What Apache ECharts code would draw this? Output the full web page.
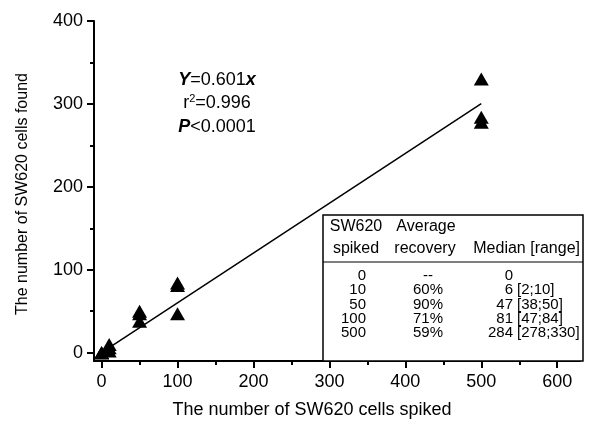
<!DOCTYPE html>
<html>
<head>
<meta charset="utf-8">
<script src="https://cdn.jsdelivr.net/npm/echarts@6/dist/echarts.min.js"></script>
<style>html,body{margin:0;padding:0;background:#fff}#c{width:600px;height:433px}</style>
</head>
<body>
<div id="c"></div>
<script>
// ---- data ----
const spikedX = [0, 0, 0, 10, 10, 10, 50, 50, 50, 100, 100, 100, 500, 500, 500];
const foundY = [0, 0, 0, 2, 6, 10, 38, 47, 50, 47, 81, 84, 278, 284, 330];
const fitX = [0, 500];
const fitY = [0, 300.5];
const xTickValues = [0, 100, 200, 300, 400, 500, 600];
const xMinorValues = [50, 150, 250, 350, 450, 550];
const yTickValues = [0, 100, 200, 300, 400];
const yMinorValues = [50, 150, 250, 350];
const xName = 'The number of SW620 cells spiked';
const yName = 'The number of SW620 cells found';
const statLines = ['{bi|Y}=0.601{bi|x}', 'r{sup|2}=0.996', '{bi|P}<0.0001'];
const tableHeader1 = ['SW620', 'Average', ''];
const tableHeader2 = ['spiked', 'recovery', 'Median [range]'];
const tableSpiked = ['0', '10', '50', '100', '500'];
const tableRecovery = ['--', '60%', '90%', '71%', '59%'];
const tableMedian = ['0', '6', '47', '81', '284'];
const tableRange = ['', '[2;10]', '[38;50]', '[47;84]', '[278;330]'];

const FONT = '"Liberation Sans", Arial, sans-serif';
const chart = echarts.init(document.getElementById('c'));

const pts = spikedX.map((x, i) => [x, foundY[i]]);
const fit = fitX.map((x, i) => [x, fitY[i]]);

const graphics = [];
// stats annotation
statLines.forEach((t, i) => {
  graphics.push({
    type: 'text', x: 217, y: 80 + i * 23.5,
    style: {
      text: t, fill: '#000', font: '18px ' + FONT, align: 'center', verticalAlign: 'middle',
      rich: {
        bi: { fontStyle: 'italic', fontWeight: 'bold', fontSize: 18, fontFamily: FONT, fill: '#000' },
        sup: { fontSize: 11, fontFamily: FONT, fill: '#000', padding: [0, 0, 9, 0] }
      }
    }
  });
});
// axis names
graphics.push({ type: 'text', x: 312, y: 410, style: { text: xName, fill: '#000', font: '18px ' + FONT, align: 'center', verticalAlign: 'middle' } });
graphics.push({ type: 'text', x: 23, y: 194, rotation: Math.PI / 2, style: { text: yName, fill: '#000', font: '16px ' + FONT, align: 'center', verticalAlign: 'middle' } });
// table box
graphics.push({ type: 'rect', shape: { x: 323, y: 215, width: 260, height: 146 }, style: { fill: '#fff', stroke: '#000', lineWidth: 1.5 }, z: 10 });
graphics.push({ type: 'line', shape: { x1: 323, y1: 262, x2: 583, y2: 262 }, style: { stroke: '#000', lineWidth: 1.2 }, z: 11 });
const tt = (text, x, y, align, size) => ({ type: 'text', x, y, z: 12, style: { text, fill: '#000', font: size + 'px ' + FONT, align, verticalAlign: 'middle' } });
graphics.push(tt(tableHeader1[0], 356, 227, 'center', 16));
graphics.push(tt(tableHeader1[1], 426, 227, 'center', 16));
graphics.push(tt(tableHeader2[0], 356, 249, 'center', 16));
graphics.push(tt(tableHeader2[1], 425, 249, 'center', 16));
graphics.push(tt(tableHeader2[2], 580, 249, 'right', 16));
tableSpiked.forEach((s, i) => {
  const y = 276 + i * 14.3;
  graphics.push(tt(s, 366, y, 'right', 15));
  graphics.push(tt(tableRecovery[i], 428, y, 'center', 15));
  graphics.push(tt(tableMedian[i], 513, y, 'right', 15));
  if (tableRange[i]) graphics.push(tt(tableRange[i], 517, y, 'left', 15));
});

const axisCommon = {
  type: 'value', splitLine: { show: false },
};
const option = {
  animation: false,
  grid: { left: 94, right: 20, top: 21, bottom: 72 },
  xAxis: [
    Object.assign({}, axisCommon, {
      min: -10, max: 630, position: 'bottom',
      axisLine: { onZero: false, lineStyle: { color: '#000', width: 2 } },
      axisTick: { customValues: xTickValues, length: 7, inside: false, lineStyle: { color: '#000', width: 2 } },
      axisLabel: { customValues: xTickValues, color: '#000', fontSize: 18, fontFamily: FONT, margin: 12 }
    }),
    Object.assign({}, axisCommon, {
      min: -10, max: 630, position: 'bottom',
      axisLine: { show: false, onZero: false },
      axisTick: { customValues: xMinorValues, length: 4, lineStyle: { color: '#000', width: 2 } },
      axisLabel: { show: false }
    })
  ],
  yAxis: [
    Object.assign({}, axisCommon, {
      min: -10, max: 400, position: 'left',
      axisLine: { onZero: false, lineStyle: { color: '#000', width: 2 } },
      axisTick: { customValues: yTickValues, length: 7, lineStyle: { color: '#000', width: 2 } },
      axisLabel: { customValues: yTickValues, color: '#000', fontSize: 18, fontFamily: FONT, margin: 11 }
    }),
    Object.assign({}, axisCommon, {
      min: -10, max: 400, position: 'left',
      axisLine: { show: false, onZero: false },
      axisTick: { customValues: yMinorValues, length: 4, lineStyle: { color: '#000', width: 2 } },
      axisLabel: { show: false }
    })
  ],
  series: [
    {
      type: 'line', data: fit, symbol: 'none', xAxisIndex: 0, yAxisIndex: 0,
      lineStyle: { color: '#000', width: 1.5 }, z: 2
    },
    {
      type: 'scatter', data: pts, symbol: 'triangle', symbolSize: [15, 13],
      xAxisIndex: 0, yAxisIndex: 0,
      itemStyle: { color: '#000', opacity: 1 }, z: 3
    }
  ],
  graphic: graphics
};
chart.setOption(option);
</script>
</body>
</html>
